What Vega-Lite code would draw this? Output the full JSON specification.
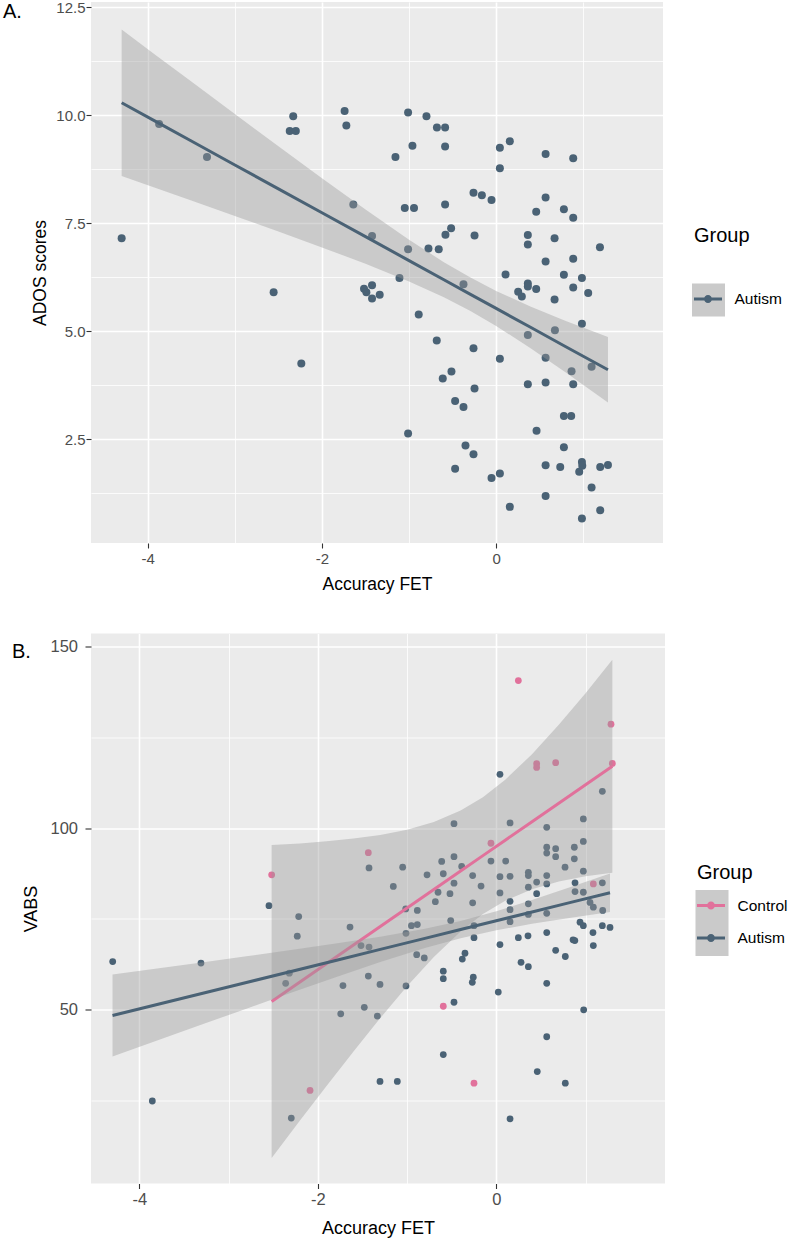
{
  "$schema": "https://vega.github.io/schema/vega-lite/v6.json",
  "background": "white",
  "padding": {"left": 3, "top": 0, "right": 0, "bottom": 0},
  "spacing": 40.5,
  "config": {
    "font": "Liberation Sans",
    "view": {"fill": "#EBEBEB", "stroke": null},
    "axis": {"gridColor": "#FFFFFF", "domain": false, "tickColor": "#333333", "labelColor": "#4D4D4D", "titleColor": "#000000", "titleFontWeight": "normal", "labelOverlap": false, "labelFlush": false}
  },
  "resolve": {
    "scale": {"x": "independent", "y": "independent", "color": "independent", "fill": "independent", "stroke": "independent"},
    "legend": {"color": "independent", "fill": "independent", "stroke": "independent"}
  },
  "datasets": {
    "adosPoints": [
      {"x": -4.30, "y": 7.15, "Group": "Autism"}, {"x": -3.87, "y": 9.79, "Group": "Autism"}, {"x": -3.32, "y": 9.03, "Group": "Autism"},
      {"x": -2.555, "y": 5.90, "Group": "Autism"}, {"x": -2.37, "y": 9.63, "Group": "Autism"}, {"x": -2.30, "y": 9.63, "Group": "Autism"},
      {"x": -2.33, "y": 9.97, "Group": "Autism"}, {"x": -2.237, "y": 4.25, "Group": "Autism"}, {"x": -1.74, "y": 10.09, "Group": "Autism"},
      {"x": -1.72, "y": 9.76, "Group": "Autism"}, {"x": -1.64, "y": 7.93, "Group": "Autism"}, {"x": -1.517, "y": 5.98, "Group": "Autism"},
      {"x": -1.49, "y": 5.90, "Group": "Autism"}, {"x": -1.425, "y": 6.06, "Group": "Autism"}, {"x": -1.425, "y": 5.75, "Group": "Autism"},
      {"x": -1.425, "y": 7.20, "Group": "Autism"}, {"x": -1.337, "y": 5.84, "Group": "Autism"}, {"x": -1.156, "y": 9.03, "Group": "Autism"},
      {"x": -1.11, "y": 6.23, "Group": "Autism"}, {"x": -1.049, "y": 7.85, "Group": "Autism"}, {"x": -1.011, "y": 10.06, "Group": "Autism"},
      {"x": -1.011, "y": 6.89, "Group": "Autism"}, {"x": -1.011, "y": 2.63, "Group": "Autism"}, {"x": -0.961, "y": 9.29, "Group": "Autism"},
      {"x": -0.943, "y": 7.85, "Group": "Autism"}, {"x": -0.889, "y": 5.38, "Group": "Autism"}, {"x": -0.80, "y": 9.97, "Group": "Autism"},
      {"x": -0.777, "y": 6.91, "Group": "Autism"}, {"x": -0.682, "y": 4.78, "Group": "Autism"}, {"x": -0.68, "y": 9.71, "Group": "Autism"},
      {"x": -0.659, "y": 6.89, "Group": "Autism"}, {"x": -0.613, "y": 3.90, "Group": "Autism"}, {"x": -0.586, "y": 9.71, "Group": "Autism"},
      {"x": -0.586, "y": 9.27, "Group": "Autism"}, {"x": -0.586, "y": 7.93, "Group": "Autism"}, {"x": -0.582, "y": 7.23, "Group": "Autism"},
      {"x": -0.517, "y": 7.38, "Group": "Autism"}, {"x": -0.513, "y": 4.06, "Group": "Autism"}, {"x": -0.471, "y": 3.38, "Group": "Autism"},
      {"x": -0.471, "y": 1.81, "Group": "Autism"}, {"x": -0.375, "y": 6.08, "Group": "Autism"}, {"x": -0.375, "y": 3.24, "Group": "Autism"},
      {"x": -0.352, "y": 2.35, "Group": "Autism"}, {"x": -0.26, "y": 8.20, "Group": "Autism"}, {"x": -0.26, "y": 4.60, "Group": "Autism"},
      {"x": -0.26, "y": 2.15, "Group": "Autism"}, {"x": -0.248, "y": 7.21, "Group": "Autism"}, {"x": -0.248, "y": 3.67, "Group": "Autism"},
      {"x": -0.164, "y": 8.14, "Group": "Autism"}, {"x": -0.053, "y": 8.03, "Group": "Autism"}, {"x": -0.053, "y": 1.60, "Group": "Autism"},
      {"x": 0.043, "y": 9.24, "Group": "Autism"}, {"x": 0.043, "y": 8.77, "Group": "Autism"}, {"x": 0.043, "y": 4.36, "Group": "Autism"},
      {"x": 0.043, "y": 1.70, "Group": "Autism"}, {"x": 0.108, "y": 6.31, "Group": "Autism"}, {"x": 0.157, "y": 9.39, "Group": "Autism"},
      {"x": 0.157, "y": 0.93, "Group": "Autism"}, {"x": 0.253, "y": 5.91, "Group": "Autism"}, {"x": 0.295, "y": 5.80, "Group": "Autism"},
      {"x": 0.364, "y": 7.22, "Group": "Autism"}, {"x": 0.364, "y": 7.00, "Group": "Autism"}, {"x": 0.364, "y": 6.10, "Group": "Autism"},
      {"x": 0.364, "y": 6.03, "Group": "Autism"}, {"x": 0.364, "y": 4.91, "Group": "Autism"}, {"x": 0.364, "y": 3.77, "Group": "Autism"},
      {"x": 0.46, "y": 7.76, "Group": "Autism"}, {"x": 0.46, "y": 5.97, "Group": "Autism"}, {"x": 0.464, "y": 2.69, "Group": "Autism"},
      {"x": 0.568, "y": 9.10, "Group": "Autism"}, {"x": 0.568, "y": 8.09, "Group": "Autism"}, {"x": 0.568, "y": 6.61, "Group": "Autism"},
      {"x": 0.568, "y": 4.38, "Group": "Autism"}, {"x": 0.568, "y": 3.81, "Group": "Autism"}, {"x": 0.568, "y": 1.89, "Group": "Autism"},
      {"x": 0.568, "y": 1.18, "Group": "Autism"}, {"x": 0.671, "y": 7.15, "Group": "Autism"}, {"x": 0.671, "y": 5.73, "Group": "Autism"},
      {"x": 0.675, "y": 5.02, "Group": "Autism"}, {"x": 0.736, "y": 1.85, "Group": "Autism"}, {"x": 0.778, "y": 7.82, "Group": "Autism"},
      {"x": 0.778, "y": 6.30, "Group": "Autism"}, {"x": 0.778, "y": 3.03, "Group": "Autism"}, {"x": 0.778, "y": 2.31, "Group": "Autism"},
      {"x": 0.862, "y": 3.03, "Group": "Autism"}, {"x": 0.866, "y": 4.07, "Group": "Autism"}, {"x": 0.885, "y": 9.00, "Group": "Autism"},
      {"x": 0.885, "y": 7.62, "Group": "Autism"}, {"x": 0.885, "y": 6.67, "Group": "Autism"}, {"x": 0.885, "y": 6.01, "Group": "Autism"},
      {"x": 0.885, "y": 3.77, "Group": "Autism"}, {"x": 0.954, "y": 1.74, "Group": "Autism"}, {"x": 0.985, "y": 6.23, "Group": "Autism"},
      {"x": 0.985, "y": 5.17, "Group": "Autism"}, {"x": 0.985, "y": 1.97, "Group": "Autism"}, {"x": 0.989, "y": 1.88, "Group": "Autism"},
      {"x": 0.985, "y": 0.66, "Group": "Autism"}, {"x": 1.057, "y": 5.88, "Group": "Autism"}, {"x": 1.096, "y": 4.17, "Group": "Autism"},
      {"x": 1.096, "y": 1.38, "Group": "Autism"}, {"x": 1.192, "y": 6.94, "Group": "Autism"}, {"x": 1.195, "y": 1.85, "Group": "Autism"},
      {"x": 1.284, "y": 1.90, "Group": "Autism"}, {"x": 1.195, "y": 0.85, "Group": "Autism"}
    ],
    "adosFit": [
      {"x": -4.3, "fit": 10.283, "lo": 8.589, "hi": 11.977, "Group": "Autism"},
      {"x": -3.9, "fit": 9.840, "lo": 8.306, "hi": 11.374, "Group": "Autism"},
      {"x": -3.5, "fit": 9.398, "lo": 8.023, "hi": 10.773, "Group": "Autism"},
      {"x": -3.0, "fit": 8.844, "lo": 7.665, "hi": 10.023, "Group": "Autism"},
      {"x": -2.5, "fit": 8.291, "lo": 7.305, "hi": 9.277, "Group": "Autism"},
      {"x": -2.0, "fit": 7.737, "lo": 6.936, "hi": 8.538, "Group": "Autism"},
      {"x": -1.5, "fit": 7.184, "lo": 6.556, "hi": 7.812, "Group": "Autism"},
      {"x": -1.0, "fit": 6.630, "lo": 6.147, "hi": 7.113, "Group": "Autism"},
      {"x": -0.6, "fit": 6.187, "lo": 5.781, "hi": 6.593, "Group": "Autism"},
      {"x": -0.3, "fit": 5.855, "lo": 5.468, "hi": 6.242, "Group": "Autism"},
      {"x": 0.0, "fit": 5.523, "lo": 5.117, "hi": 5.929, "Group": "Autism"},
      {"x": 0.4, "fit": 5.080, "lo": 4.597, "hi": 5.563, "Group": "Autism"},
      {"x": 0.8, "fit": 4.637, "lo": 4.041, "hi": 5.233, "Group": "Autism"},
      {"x": 1.284, "fit": 4.102, "lo": 3.343, "hi": 4.861, "Group": "Autism"}
    ],
    "vabsPoints": [
      {"x": -4.298, "y": 63.2, "Group": "Autism"}, {"x": -3.854, "y": 24.8, "Group": "Autism"}, {"x": -3.309, "y": 62.8, "Group": "Autism"},
      {"x": -2.547, "y": 78.6, "Group": "Autism"}, {"x": -2.319, "y": 60.0, "Group": "Autism"}, {"x": -2.36, "y": 57.2, "Group": "Autism"},
      {"x": -2.297, "y": 20.1, "Group": "Autism"}, {"x": -2.214, "y": 75.6, "Group": "Autism"}, {"x": -2.23, "y": 70.2, "Group": "Autism"},
      {"x": -1.718, "y": 56.6, "Group": "Autism"}, {"x": -1.743, "y": 48.8, "Group": "Autism"}, {"x": -1.639, "y": 72.7, "Group": "Autism"},
      {"x": -1.516, "y": 67.6, "Group": "Autism"}, {"x": -1.479, "y": 50.6, "Group": "Autism"}, {"x": -1.434, "y": 59.2, "Group": "Autism"},
      {"x": -1.426, "y": 67.2, "Group": "Autism"}, {"x": -1.426, "y": 89.0, "Group": "Autism"}, {"x": -1.333, "y": 48.2, "Group": "Autism"},
      {"x": -1.303, "y": 56.9, "Group": "Autism"}, {"x": -1.303, "y": 30.2, "Group": "Autism"}, {"x": -1.154, "y": 83.9, "Group": "Autism"},
      {"x": -1.109, "y": 30.2, "Group": "Autism"}, {"x": -1.049, "y": 89.2, "Group": "Autism"}, {"x": -1.015, "y": 77.7, "Group": "Autism"},
      {"x": -1.012, "y": 71.0, "Group": "Autism"}, {"x": -1.012, "y": 56.5, "Group": "Autism"}, {"x": -0.951, "y": 73.1, "Group": "Autism"},
      {"x": -0.885, "y": 73.4, "Group": "Autism"}, {"x": -0.885, "y": 77.3, "Group": "Autism"}, {"x": -0.892, "y": 65.1, "Group": "Autism"},
      {"x": -0.807, "y": 64.2, "Group": "Autism"}, {"x": -0.776, "y": 87.1, "Group": "Autism"}, {"x": -0.683, "y": 79.7, "Group": "Autism"},
      {"x": -0.653, "y": 82.3, "Group": "Autism"}, {"x": -0.612, "y": 90.8, "Group": "Autism"}, {"x": -0.594, "y": 87.4, "Group": "Autism"},
      {"x": -0.594, "y": 60.55, "Group": "Autism"}, {"x": -0.594, "y": 58.5, "Group": "Autism"}, {"x": -0.594, "y": 37.6, "Group": "Autism"},
      {"x": -0.519, "y": 81.9, "Group": "Autism"}, {"x": -0.511, "y": 74.5, "Group": "Autism"}, {"x": -0.474, "y": 92.1, "Group": "Autism"},
      {"x": -0.474, "y": 84.8, "Group": "Autism"}, {"x": -0.474, "y": 101.2, "Group": "Autism"}, {"x": -0.474, "y": 52.0, "Group": "Autism"},
      {"x": -0.388, "y": 89.4, "Group": "Autism"}, {"x": -0.381, "y": 63.9, "Group": "Autism"}, {"x": -0.351, "y": 65.5, "Group": "Autism"},
      {"x": -0.265, "y": 86.9, "Group": "Autism"}, {"x": -0.265, "y": 79.4, "Group": "Autism"}, {"x": -0.25, "y": 73.1, "Group": "Autism"},
      {"x": -0.25, "y": 69.8, "Group": "Autism"}, {"x": -0.258, "y": 58.9, "Group": "Autism"}, {"x": -0.269, "y": 57.5, "Group": "Autism"},
      {"x": -0.171, "y": 84.0, "Group": "Autism"}, {"x": -0.06, "y": 90.9, "Group": "Autism"}, {"x": 0.022, "y": 54.8, "Group": "Autism"},
      {"x": 0.041, "y": 114.8, "Group": "Autism"}, {"x": 0.041, "y": 86.6, "Group": "Autism"}, {"x": 0.041, "y": 82.1, "Group": "Autism"},
      {"x": 0.041, "y": 67.9, "Group": "Autism"}, {"x": 0.105, "y": 90.9, "Group": "Autism"}, {"x": 0.154, "y": 101.4, "Group": "Autism"},
      {"x": 0.154, "y": 86.7, "Group": "Autism"}, {"x": 0.154, "y": 79.8, "Group": "Autism"}, {"x": 0.154, "y": 77.5, "Group": "Autism"},
      {"x": 0.154, "y": 74.2, "Group": "Autism"}, {"x": 0.154, "y": 19.9, "Group": "Autism"}, {"x": 0.247, "y": 69.8, "Group": "Autism"},
      {"x": 0.277, "y": 63.0, "Group": "Autism"}, {"x": 0.355, "y": 70.3, "Group": "Autism"}, {"x": 0.359, "y": 61.8, "Group": "Autism"},
      {"x": 0.359, "y": 87.8, "Group": "Autism"}, {"x": 0.359, "y": 86.9, "Group": "Autism"}, {"x": 0.359, "y": 83.7, "Group": "Autism"},
      {"x": 0.359, "y": 79.1, "Group": "Autism"}, {"x": 0.359, "y": 76.2, "Group": "Autism"}, {"x": 0.452, "y": 85.1, "Group": "Autism"},
      {"x": 0.452, "y": 81.9, "Group": "Autism"}, {"x": 0.459, "y": 32.9, "Group": "Autism"}, {"x": 0.565, "y": 100.2, "Group": "Autism"},
      {"x": 0.565, "y": 94.7, "Group": "Autism"}, {"x": 0.565, "y": 93.1, "Group": "Autism"}, {"x": 0.565, "y": 86.9, "Group": "Autism"},
      {"x": 0.565, "y": 84.6, "Group": "Autism"}, {"x": 0.565, "y": 76.5, "Group": "Autism"}, {"x": 0.565, "y": 71.2, "Group": "Autism"},
      {"x": 0.565, "y": 57.2, "Group": "Autism"}, {"x": 0.565, "y": 42.5, "Group": "Autism"}, {"x": 0.665, "y": 94.3, "Group": "Autism"},
      {"x": 0.665, "y": 92.1, "Group": "Autism"}, {"x": 0.665, "y": 66.3, "Group": "Autism"}, {"x": 0.77, "y": 89.2, "Group": "Autism"},
      {"x": 0.773, "y": 64.6, "Group": "Autism"}, {"x": 0.773, "y": 29.7, "Group": "Autism"}, {"x": 0.86, "y": 69.2, "Group": "Autism"},
      {"x": 0.88, "y": 69.0, "Group": "Autism"}, {"x": 0.874, "y": 94.7, "Group": "Autism"}, {"x": 0.874, "y": 91.5, "Group": "Autism"},
      {"x": 0.882, "y": 84.9, "Group": "Autism"}, {"x": 0.882, "y": 82.5, "Group": "Autism"}, {"x": 0.938, "y": 74.05, "Group": "Autism"},
      {"x": 0.975, "y": 73.1, "Group": "Autism"}, {"x": 0.975, "y": 102.5, "Group": "Autism"}, {"x": 0.975, "y": 96.3, "Group": "Autism"},
      {"x": 0.975, "y": 88.1, "Group": "Autism"}, {"x": 0.975, "y": 82.3, "Group": "Autism"}, {"x": 0.979, "y": 49.9, "Group": "Autism"},
      {"x": 1.05, "y": 79.5, "Group": "Autism"}, {"x": 1.087, "y": 78.2, "Group": "Autism"}, {"x": 1.083, "y": 71.2, "Group": "Autism"},
      {"x": 1.087, "y": 67.6, "Group": "Autism"}, {"x": 1.188, "y": 110.1, "Group": "Autism"}, {"x": 1.188, "y": 84.9, "Group": "Autism"},
      {"x": 1.192, "y": 77.3, "Group": "Autism"}, {"x": 1.188, "y": 73.1, "Group": "Autism"}, {"x": 1.274, "y": 72.6, "Group": "Autism"},
      {"x": -2.517, "y": 87.1, "Group": "Control"}, {"x": -2.087, "y": 27.7, "Group": "Control"}, {"x": -1.434, "y": 93.2, "Group": "Control"},
      {"x": -0.594, "y": 50.9, "Group": "Control"}, {"x": -0.25, "y": 29.7, "Group": "Control"}, {"x": -0.06, "y": 95.8, "Group": "Control"},
      {"x": 0.247, "y": 140.6, "Group": "Control"}, {"x": 0.452, "y": 117.7, "Group": "Control"}, {"x": 0.452, "y": 116.7, "Group": "Control"},
      {"x": 0.665, "y": 118.0, "Group": "Control"}, {"x": 1.087, "y": 84.6, "Group": "Control"}, {"x": 1.285, "y": 128.6, "Group": "Control"},
      {"x": 1.30, "y": 117.8, "Group": "Control"}
    ],
    "fitControl": [
      {"x": -2.517, "fit": 52.20, "lo": 9.11, "hi": 95.29, "Group": "Control"},
      {"x": -2.2, "fit": 57.58, "lo": 19.41, "hi": 95.75, "Group": "Control"},
      {"x": -1.9, "fit": 62.68, "lo": 29.03, "hi": 96.33, "Group": "Control"},
      {"x": -1.6, "fit": 67.77, "lo": 38.46, "hi": 97.08, "Group": "Control"},
      {"x": -1.3, "fit": 72.87, "lo": 47.64, "hi": 98.10, "Group": "Control"},
      {"x": -1.0, "fit": 77.96, "lo": 56.38, "hi": 99.54, "Group": "Control"},
      {"x": -0.7, "fit": 83.05, "lo": 64.45, "hi": 101.65, "Group": "Control"},
      {"x": -0.4, "fit": 88.15, "lo": 71.49, "hi": 104.81, "Group": "Control"},
      {"x": -0.15, "fit": 92.39, "lo": 76.28, "hi": 108.50, "Group": "Control"},
      {"x": 0.1, "fit": 96.64, "lo": 79.98, "hi": 113.30, "Group": "Control"},
      {"x": 0.4, "fit": 101.73, "lo": 83.13, "hi": 120.33, "Group": "Control"},
      {"x": 0.7, "fit": 106.83, "lo": 85.25, "hi": 128.41, "Group": "Control"},
      {"x": 1.0, "fit": 111.92, "lo": 86.69, "hi": 137.15, "Group": "Control"},
      {"x": 1.3, "fit": 117.01, "lo": 87.70, "hi": 146.32, "Group": "Control"}
    ],
    "fitAutism": [
      {"x": -4.3, "fit": 48.35, "lo": 37.04, "hi": 59.66, "Group": "Autism"},
      {"x": -3.8, "fit": 51.38, "lo": 41.45, "hi": 61.31, "Group": "Autism"},
      {"x": -3.3, "fit": 54.42, "lo": 45.86, "hi": 62.98, "Group": "Autism"},
      {"x": -2.8, "fit": 57.45, "lo": 50.24, "hi": 64.66, "Group": "Autism"},
      {"x": -2.3, "fit": 60.49, "lo": 54.60, "hi": 66.38, "Group": "Autism"},
      {"x": -1.8, "fit": 63.52, "lo": 58.89, "hi": 68.15, "Group": "Autism"},
      {"x": -1.3, "fit": 66.56, "lo": 63.07, "hi": 70.05, "Group": "Autism"},
      {"x": -0.8, "fit": 69.59, "lo": 66.95, "hi": 72.23, "Group": "Autism"},
      {"x": -0.4, "fit": 72.02, "lo": 69.63, "hi": 74.41, "Group": "Autism"},
      {"x": 0.0, "fit": 74.45, "lo": 71.81, "hi": 77.09, "Group": "Autism"},
      {"x": 0.4, "fit": 76.88, "lo": 73.59, "hi": 80.17, "Group": "Autism"},
      {"x": 0.8, "fit": 79.31, "lo": 75.16, "hi": 83.46, "Group": "Autism"},
      {"x": 1.274, "fit": 82.18, "lo": 76.87, "hi": 87.49, "Group": "Autism"}
    ]
  },
  "vconcat": [
    {
      "width": 572,
      "height": 541,
      "title": {"text": "A.", "anchor": "start", "frame": "bounds", "orient": "top", "offset": -22, "dx": -28.5, "fontSize": 20, "fontWeight": "normal", "color": "#000000"},
      "layer": [
        {
          "data": {"name": "adosPoints"},
          "mark": {"type": "circle", "size": 64, "opacity": 1},
          "encoding": {
            "x": {"field": "x", "type": "quantitative", "title": "Accuracy FET",
              "scale": {"domain": [-4.652, 1.916], "nice": false, "zero": false},
              "axis": {"values": [-4, -3, -2, -1, 0, 1], "labelExpr": "datum.value % 2 === 0 ? '' + datum.value : ''",
                "gridWidth": {"condition": {"test": "datum.value % 2 === 0", "value": 1.6}, "value": 0.8},
                "tickOpacity": {"condition": {"test": "datum.value % 2 === 0", "value": 1}, "value": 0},
                "tickSize": 5, "tickWidth": 1.1, "labelPadding": 3, "labelFontSize": 15, "titleFontSize": 17.5, "titlePadding": 9}},
            "y": {"field": "y", "type": "quantitative", "title": "ADOS scores",
              "scale": {"domain": [0.093, 12.616], "nice": false, "zero": false},
              "axis": {"values": [1.25, 2.5, 3.75, 5, 6.25, 7.5, 8.75, 10, 11.25, 12.5], "labelExpr": "datum.value % 2.5 === 0 ? format(datum.value, '.1f') : ''",
                "gridWidth": {"condition": {"test": "datum.value % 2.5 === 0", "value": 1.6}, "value": 0.8},
                "tickOpacity": {"condition": {"test": "datum.value % 2.5 === 0", "value": 1}, "value": 0},
                "tickSize": 5, "tickWidth": 1.1, "labelPadding": 1, "labelFontSize": 15, "titleFontSize": 17.5, "titlePadding": 6.3}},
            "fill": {"field": "Group", "type": "nominal",
              "scale": {"domain": ["Autism"], "range": ["#4A6275"]},
              "legend": {"title": "Group", "orient": "none", "legendX": 603, "legendY": 224, "zindex": 2, "titleFontSize": 20, "titleFontWeight": "normal", "titleColor": "#000000", "titlePadding": 39,
                "labelFontSize": 15.5, "labelColor": "#000000", "labelOffset": 12.5,
                "symbolType": "M-1,-0.107H1V0.107H-1Z M0.286,0A0.286,0.286,0,1,1,-0.286,0A0.286,0.286,0,1,1,0.286,0Z",
                "symbolSize": 784, "symbolStrokeWidth": 0, "rowPadding": 9.5}}
          }
        },
        {
          "data": {"name": "adosFit"},
          "mark": {"type": "area", "fillOpacity": 0.4},
          "encoding": {
            "x": {"field": "x", "type": "quantitative", "title": "Accuracy FET"},
            "y": {"field": "lo", "type": "quantitative", "title": "ADOS scores"},
            "y2": {"field": "hi"},
            "color": {"field": "Group", "type": "nominal", "scale": {"range": ["#999999"]},
              "legend": {"title": null, "orient": "none", "legendX": 601, "legendY": 281.5, "zindex": 1, "labelExpr": "''",
                "symbolType": "square", "symbolSize": 1089, "symbolStrokeWidth": 0, "symbolOpacity": 0.52, "rowPadding": 0}}
          }
        },
        {
          "data": {"name": "adosFit"},
          "mark": {"type": "line", "strokeWidth": 3},
          "encoding": {
            "x": {"field": "x", "type": "quantitative", "title": "Accuracy FET"},
            "y": {"field": "fit", "type": "quantitative", "title": "ADOS scores"},
            "stroke": {"field": "Group", "type": "nominal",
              "scale": {"domain": ["Autism"], "range": ["#4A6275"]},
              "legend": {"title": "Group", "orient": "none", "legendX": 603, "legendY": 224, "zindex": 2, "titleFontSize": 20, "titleFontWeight": "normal", "titleColor": "#000000", "titlePadding": 39,
                "labelFontSize": 15.5, "labelColor": "#000000", "labelOffset": 12.5,
                "symbolType": "M-1,-0.107H1V0.107H-1Z M0.286,0A0.286,0.286,0,1,1,-0.286,0A0.286,0.286,0,1,1,0.286,0Z",
                "symbolSize": 784, "symbolStrokeWidth": 0, "rowPadding": 9.5}}
          }
        }
      ]
    },
    {
      "width": 574,
      "height": 550,
      "title": {"text": "B.", "anchor": "start", "frame": "bounds", "orient": "top", "offset": -28, "dx": -11, "fontSize": 20, "fontWeight": "normal", "color": "#000000"},
      "layer": [
        {
          "data": {"name": "vabsPoints"},
          "mark": {"type": "circle", "size": 46, "opacity": 1},
          "encoding": {
            "x": {"field": "x", "type": "quantitative", "title": "Accuracy FET",
              "scale": {"domain": [-4.541, 1.89], "nice": false, "zero": false},
              "axis": {"values": [-4, -3, -2, -1, 0, 1], "labelExpr": "datum.value % 2 === 0 ? '' + datum.value : ''",
                "gridWidth": {"condition": {"test": "datum.value % 2 === 0", "value": 1.6}, "value": 0.8},
                "tickOpacity": {"condition": {"test": "datum.value % 2 === 0", "value": 1}, "value": 0},
                "tickSize": 5, "tickWidth": 1.1, "labelPadding": 3, "labelFontSize": 16.5, "titleFontSize": 18, "titlePadding": 11.5}},
            "y": {"field": "y", "type": "quantitative", "title": "VABS",
              "scale": {"domain": [2.07, 153.58], "nice": false, "zero": false},
              "axis": {"values": [25, 50, 75, 100, 125, 150], "labelExpr": "datum.value % 50 === 0 ? '' + datum.value : ''",
                "gridWidth": {"condition": {"test": "datum.value % 50 === 0", "value": 1.6}, "value": 0.8},
                "tickOpacity": {"condition": {"test": "datum.value % 50 === 0", "value": 1}, "value": 0},
                "tickSize": 6, "tickWidth": 1.1, "labelPadding": 7.5, "labelFontSize": 16.5, "titleFontSize": 18, "titlePadding": 9}},
            "fill": {"field": "Group", "type": "nominal",
              "scale": {"domain": ["Control", "Autism"], "range": ["#E1719B", "#4A6275"]},
              "legend": {"title": "Group", "orient": "none", "legendX": 606, "legendY": 229.5, "zindex": 2, "titleFontSize": 20, "titleFontWeight": "normal", "titleColor": "#000000", "titlePadding": 8.5,
                "labelFontSize": 15.5, "labelColor": "#000000", "labelOffset": 12.5,
                "symbolType": "M-1,-0.107H1V0.107H-1Z M0.286,0A0.286,0.286,0,1,1,-0.286,0A0.286,0.286,0,1,1,0.286,0Z",
                "symbolSize": 784, "symbolStrokeWidth": 0, "rowPadding": 9.5}}
          }
        },
        {
          "data": {"name": "fitControl"},
          "mark": {"type": "area", "fillOpacity": 0.4},
          "encoding": {
            "x": {"field": "x", "type": "quantitative", "title": "Accuracy FET"},
            "y": {"field": "lo", "type": "quantitative", "title": "VABS"},
            "y2": {"field": "hi"},
            "color": {"field": "Group", "type": "nominal", "scale": {"range": ["#999999"]},
              "legend": {"title": null, "orient": "none", "legendX": 604.5, "legendY": 256.5, "zindex": 1, "labelExpr": "''",
                "symbolType": "square", "symbolSize": 1089, "symbolStrokeWidth": 0, "symbolOpacity": 0.52, "rowPadding": 0}}
          }
        },
        {
          "data": {"name": "fitControl"},
          "mark": {"type": "line", "strokeWidth": 3},
          "encoding": {
            "x": {"field": "x", "type": "quantitative", "title": "Accuracy FET"},
            "y": {"field": "fit", "type": "quantitative", "title": "VABS"},
            "stroke": {"field": "Group", "type": "nominal",
              "scale": {"domain": ["Control", "Autism"], "range": ["#E1719B", "#4A6275"]},
              "legend": {"title": "Group", "orient": "none", "legendX": 606, "legendY": 229.5, "zindex": 2, "titleFontSize": 20, "titleFontWeight": "normal", "titleColor": "#000000", "titlePadding": 8.5,
                "labelFontSize": 15.5, "labelColor": "#000000", "labelOffset": 12.5,
                "symbolType": "M-1,-0.107H1V0.107H-1Z M0.286,0A0.286,0.286,0,1,1,-0.286,0A0.286,0.286,0,1,1,0.286,0Z",
                "symbolSize": 784, "symbolStrokeWidth": 0, "rowPadding": 9.5}}
          }
        },
        {
          "data": {"name": "fitAutism"},
          "mark": {"type": "area", "fillOpacity": 0.4},
          "encoding": {
            "x": {"field": "x", "type": "quantitative", "title": "Accuracy FET"},
            "y": {"field": "lo", "type": "quantitative", "title": "VABS"},
            "y2": {"field": "hi"},
            "color": {"field": "Group", "type": "nominal", "scale": {"range": ["#999999"]}}
          }
        },
        {
          "data": {"name": "fitAutism"},
          "mark": {"type": "line", "strokeWidth": 3},
          "encoding": {
            "x": {"field": "x", "type": "quantitative", "title": "Accuracy FET"},
            "y": {"field": "fit", "type": "quantitative", "title": "VABS"},
            "stroke": {"field": "Group", "type": "nominal"}
          }
        }
      ]
    }
  ]
}
